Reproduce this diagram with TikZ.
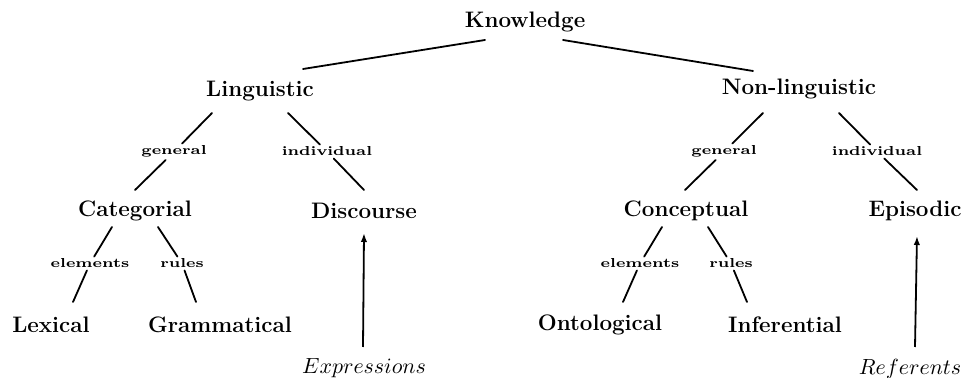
\documentclass[tikz,border=0pt]{standalone}
\usepackage{graphicx}
\usetikzlibrary{arrows.meta}
\tikzset{
  x=0.5pt, y=-0.5pt,
  main/.style={anchor=base, inner sep=0pt, font=\fontsize{11.2}{13}\selectfont\bfseries},
  lab/.style={anchor=base, inner sep=1pt, font=\fontsize{6.5}{7}\selectfont\bfseries},
  src/.style={anchor=base, inner sep=0pt, font=\fontsize{10.5}{12}\selectfont},
  edge/.style={line width=0.9pt, line cap=round},
  feed/.style={line width=0.9pt, -{Latex[length=4.5pt,width=3.2pt]}},
}
\newcommand{\wlab}[1]{\scalebox{1.23}[1]{#1}}
\begin{document}
\begin{tikzpicture}
\useasboundingbox (0,0) rectangle (964,378);
% main nodes
\node[main] (K) at (525,28) {Knowledge};
\node[main] (Ling) at (260,97) {Linguistic};
\node[main] (NonL) at (799,95) {Non-linguistic};
\node[main] (Cat) at (135,217) {Categorial};
\node[main] (Disc) at (364,219) {Discourse};
\node[main] (Lex) at (51,333) {Lexical};
\node[main] (Gram) at (220,333) {Grammatical};
\node[main] (Conc) at (686,217) {Conceptual};
\node[main] (Epi) at (915,217) {Episodic};
\node[main] (Onto) at (600,331) {Ontological};
\node[main] (Infer) at (785,333) {Inferential};
\node[src] (Expr) at (364,374) {$Expressions$};
\node[src] (Ref) at (910,375) {$Referents$};
% edge labels
\node[lab] (g1) at (174,155) {\wlab{general}};
\node[lab] (i1) at (327,156) {\wlab{individual}};
\node[lab] (e1) at (90,268) {\wlab{elements}};
\node[lab] (r1) at (182,268) {\wlab{rules}};
\node[lab] (g2) at (724,155) {\wlab{general}};
\node[lab] (i2) at (877,156) {\wlab{individual}};
\node[lab] (e2) at (640,268) {\wlab{elements}};
\node[lab] (r2) at (731,268) {\wlab{rules}};
% connectors
\draw[edge] ([shift={(-40,12)}]K.base) -- ([shift={(43,-28)}]Ling.base);
\draw[edge] ([shift={(38,12)}]K.base) -- ([shift={(-46,-24)}]NonL.base);
\draw[edge] ([shift={(-48,16)}]Ling.base) -- (g1) -- ([shift={(0,-27)}]Cat.base);
\draw[edge] ([shift={(28,16)}]Ling.base) -- (i1) -- ([shift={(0,-29)}]Disc.base);
\draw[edge] ([shift={(-36,18)}]NonL.base) -- (g2) -- ([shift={(-1,-27)}]Conc.base);
\draw[edge] ([shift={(40,18)}]NonL.base) -- (i2) -- ([shift={(2,-27)}]Epi.base);
\draw[edge] ([shift={(-23,10)}]Cat.base) -- (e1) -- ([shift={(22,-31)}]Lex.base);
\draw[edge] ([shift={(23,10)}]Cat.base) -- (r1) -- ([shift={(-24,-31)}]Gram.base);
\draw[edge] ([shift={(-24,10)}]Conc.base) -- (e2) -- ([shift={(23,-29)}]Onto.base);
\draw[edge] ([shift={(22,10)}]Conc.base) -- (r2) -- ([shift={(-38,-31)}]Infer.base);
\draw[feed] ([shift={(-1,-27)}]Expr.base) -- ([shift={(0,14)}]Disc.base);
\draw[feed] ([shift={(5,-28)}]Ref.base) -- ([shift={(2,19)}]Epi.base);
\end{tikzpicture}
\end{document}
